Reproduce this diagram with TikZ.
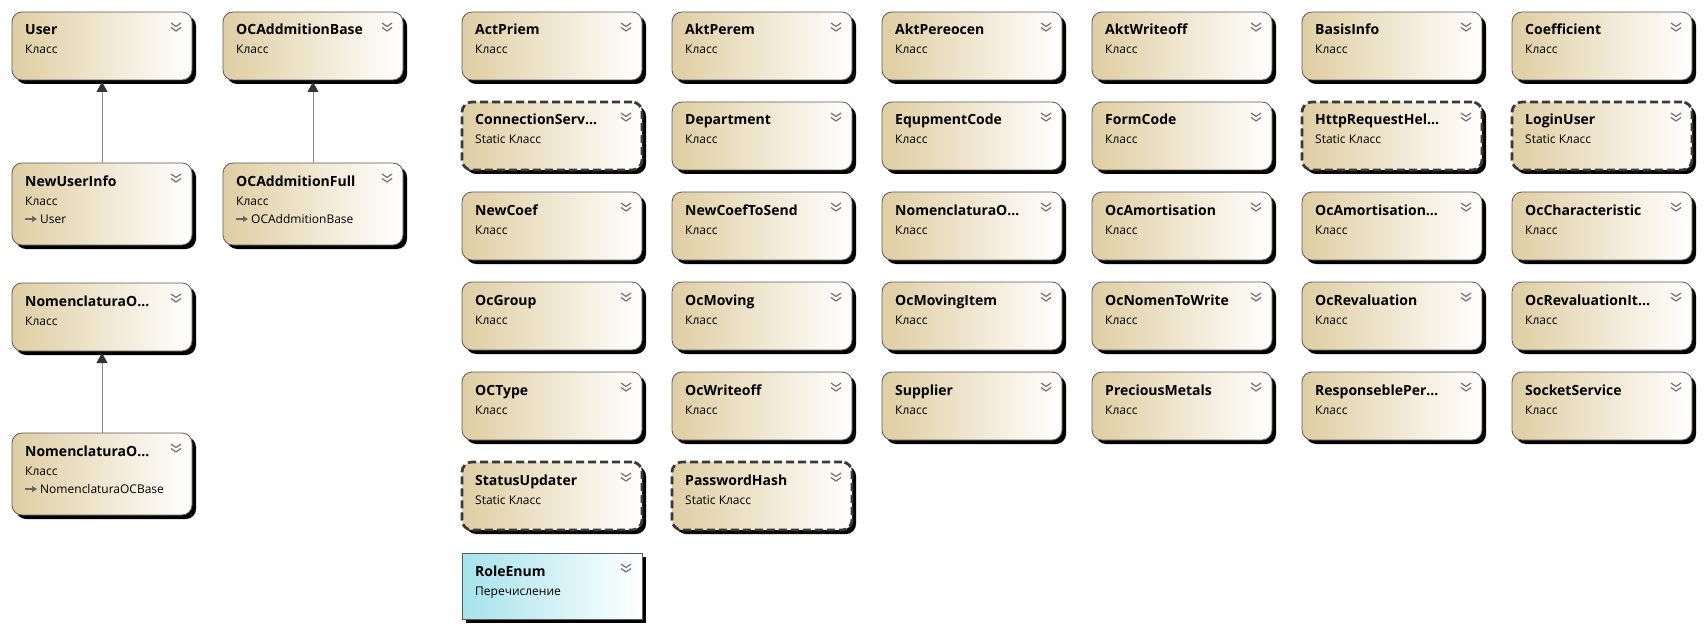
\documentclass[tikz,border=0pt]{standalone}
\usepackage{fontspec}
\setmainfont{Open Sans}
\usetikzlibrary{arrows.meta,shadows,calc}
\definecolor{tanC}{HTML}{DFCEA3}
\definecolor{enumC}{HTML}{A6E3EB}
\definecolor{bordC}{HTML}{5A5A5A}
\tikzset{
 shd/.style={drop shadow={shadow xshift=4pt, shadow yshift=-4pt, fill=black, opacity=1}},
 clsbase/.style={minimum width=180pt, minimum height=68pt, inner sep=0pt, outer sep=0pt, left color=tanC, right color=white, shd},
 cls/.style={clsbase, draw=bordC, line width=0.8pt, rounded corners=10pt},
 tall/.style={cls, minimum height=82pt},
 stat/.style={clsbase, draw=black!78, line width=2.7pt, dash pattern=on 8pt off 4pt, rounded corners=10pt},
 enm/.style={minimum width=180pt, minimum height=66pt, inner sep=0pt, outer sep=0pt, left color=enumC, right color=white, draw=bordC, line width=0.8pt, shd},
 ttl/.style={font=\bfseries\fontsize{14}{16}\selectfont, inner sep=0pt, anchor=base west},
 sub/.style={font=\fontsize{12}{14}\selectfont, inner sep=0pt, anchor=base west},
 chev/.style={draw=black!55, line width=1.2pt},
 inh/.style={draw=black!45, line width=0.8pt, shorten >=2pt, -{Triangle[width=11pt,length=10pt,color=black!80]}},
 inhglyph/.style={draw=black!60, line width=1.2pt, -{Triangle[width=6pt,length=5pt]}}
}
% #1 name, #2 x, #3 y, #4 style, #5 title, #6 subtitle
\newcommand\ubox[6]{%
 \node[#4, anchor=north west] (#1) at (#2,#3) {};
 \node[ttl] (#1-t) at ($(#1.north west)+(13,23)$) {#5};
 \node[sub] (#1-s) at ($(#1.north west)+(13,42)$) {#6};
 \draw[chev] ($(#1.north west)+(159,11)$) -- ++(5,3.5) -- ++(5,-3.5);
 \draw[chev] ($(#1.north west)+(159,15.5)$) -- ++(5,3.5) -- ++(5,-3.5);
}
\newcommand\uparent[2]{%
 \coordinate (#1-ga) at ($(#1.north west)+(13,56)$);
 \coordinate (#1-gb) at ($(#1.north west)+(25,56)$);
 \draw[inhglyph] (#1-ga) -- (#1-gb);
 \node[sub] (#1-p) at ($(#1.north west)+(28,60)$) {#2};
}
\begin{document}
\begin{tikzpicture}[x=1pt,y=-1pt]
\useasboundingbox (0,0) rectangle (1704,631);
% left part
\ubox{user}{12}{12}{cls}{User}{Класс}
\ubox{ocab}{223}{12}{cls}{OCAddmitionBase}{Класс}
\ubox{nui}{12}{163}{tall}{NewUserInfo}{Класс}
\uparent{nui}{User}
\ubox{ocaf}{223}{163}{tall}{OCAddmitionFull}{Класс}
\uparent{ocaf}{OCAddmitionBase}
\ubox{nomb}{12}{283}{cls}{NomenclaturaO…}{Класс}
\ubox{nomf}{12}{433}{tall}{NomenclaturaO…}{Класс}
\uparent{nomf}{NomenclaturaOCBase}
\draw[inh] (nui.north) -- (user.south);
\draw[inh] (ocaf.north) -- (ocab.south);
\draw[inh] (nomf.north) -- (nomb.south);
% grid row 1
\ubox{r1a}{462}{12}{cls}{ActPriem}{Класс}
\ubox{r1b}{672}{12}{cls}{AktPerem}{Класс}
\ubox{r1c}{882}{12}{cls}{AktPereocen}{Класс}
\ubox{r1d}{1092}{12}{cls}{AktWriteoff}{Класс}
\ubox{r1e}{1302}{12}{cls}{BasisInfo}{Класс}
\ubox{r1f}{1512}{12}{cls}{Coefficient}{Класс}
% row 2
\ubox{r2a}{462}{102}{stat}{ConnectionServ…}{Static Класс}
\ubox{r2b}{672}{102}{cls}{Department}{Класс}
\ubox{r2c}{882}{102}{cls}{EqupmentCode}{Класс}
\ubox{r2d}{1092}{102}{cls}{FormCode}{Класс}
\ubox{r2e}{1302}{102}{stat}{HttpRequestHel…}{Static Класс}
\ubox{r2f}{1512}{102}{stat}{LoginUser}{Static Класс}
% row 3
\ubox{r3a}{462}{192}{cls}{NewCoef}{Класс}
\ubox{r3b}{672}{192}{cls}{NewCoefToSend}{Класс}
\ubox{r3c}{882}{192}{cls}{NomenclaturaO…}{Класс}
\ubox{r3d}{1092}{192}{cls}{OcAmortisation}{Класс}
\ubox{r3e}{1302}{192}{cls}{OcAmortisation…}{Класс}
\ubox{r3f}{1512}{192}{cls}{OcCharacteristic}{Класс}
% row 4
\ubox{r4a}{462}{282}{cls}{OcGroup}{Класс}
\ubox{r4b}{672}{282}{cls}{OcMoving}{Класс}
\ubox{r4c}{882}{282}{cls}{OcMovingItem}{Класс}
\ubox{r4d}{1092}{282}{cls}{OcNomenToWrite}{Класс}
\ubox{r4e}{1302}{282}{cls}{OcRevaluation}{Класс}
\ubox{r4f}{1512}{282}{cls}{OcRevaluationIt…}{Класс}
% row 5
\ubox{r5a}{462}{372}{cls}{OCType}{Класс}
\ubox{r5b}{672}{372}{cls}{OcWriteoff}{Класс}
\ubox{r5c}{882}{372}{cls}{Supplier}{Класс}
\ubox{r5d}{1092}{372}{cls}{PreciousMetals}{Класс}
\ubox{r5e}{1302}{372}{cls}{ResponseblePer…}{Класс}
\ubox{r5f}{1512}{372}{cls}{SocketService}{Класс}
% row 6
\ubox{r6a}{462}{462}{stat}{StatusUpdater}{Static Класс}
\ubox{r6b}{672}{462}{stat}{PasswordHash}{Static Класс}
% row 7
\ubox{r7a}{462}{553}{enm}{RoleEnum}{Перечисление}
\end{tikzpicture}
\end{document}
